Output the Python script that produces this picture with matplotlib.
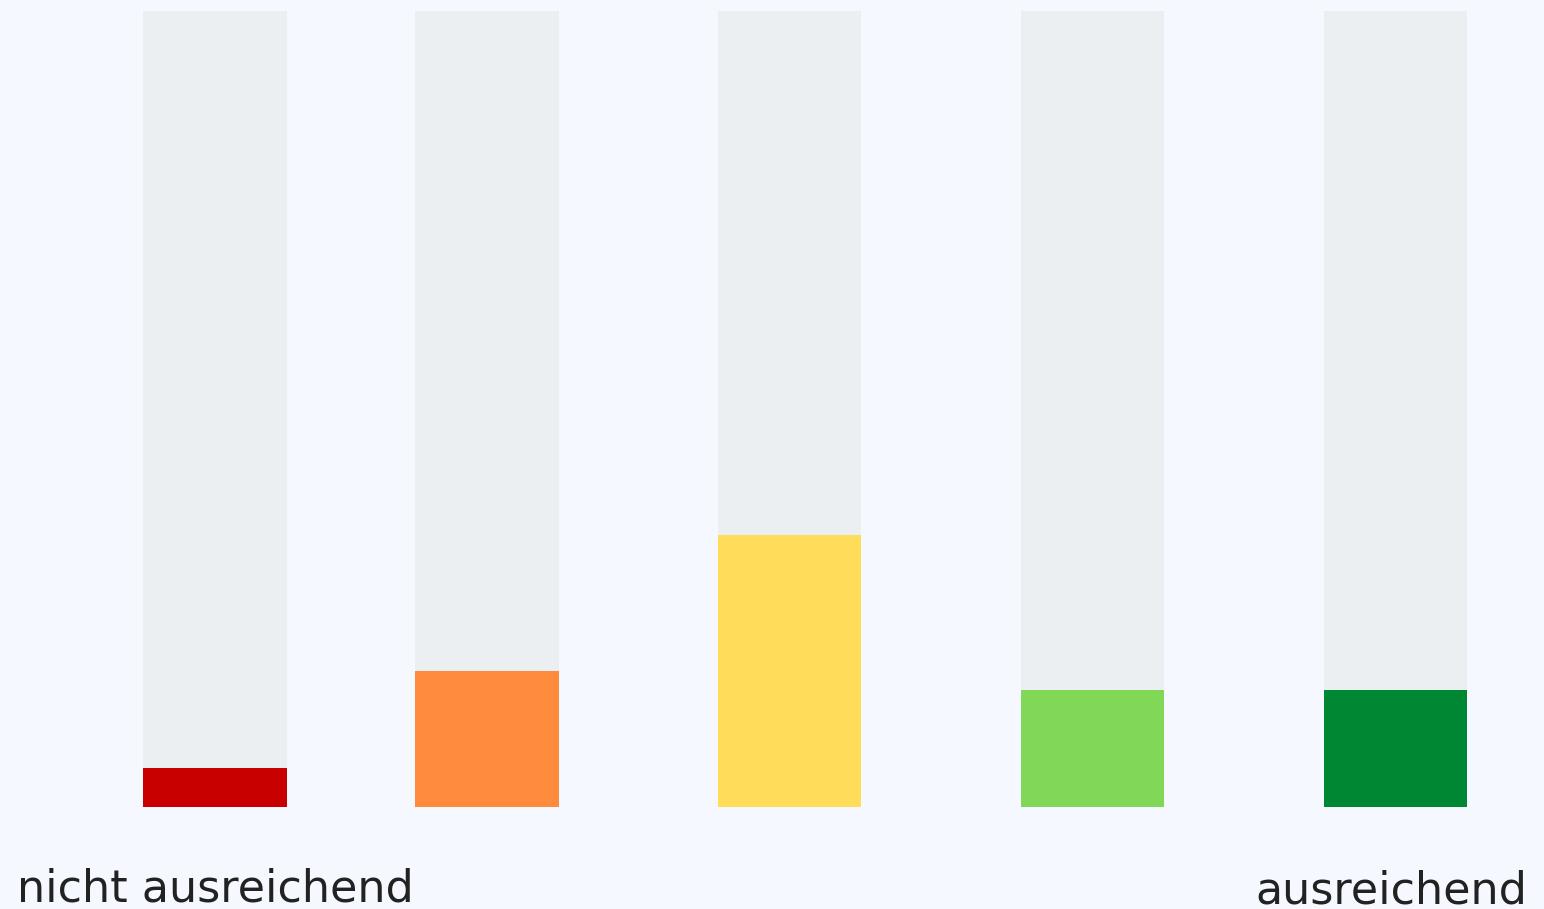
import matplotlib
matplotlib.use("Agg")
import matplotlib.pyplot as plt
import numpy as np

categories = ["1", "2", "3", "4", "5"]
values = [4.9, 17.1, 34.2, 14.7, 14.7]
max_value = 100
colors = ["#C80000", "#FF8C3C", "#FFDC5A", "#80D856", "#008733"]
label_left = "nicht ausreichend"
label_right = "ausreichend"

bg = "#F5F8FE"
track = "#EBEFF2"

fig = plt.figure(figsize=(15.44, 9.09), dpi=100, facecolor=bg)
ax = fig.add_axes([0, 0.1122, 1, 0.8757])
ax.set_facecolor(bg)

pos = [0, 0.897, 1.896, 2.896, 3.896]
width = 0.475
ax.bar(pos, [max_value] * len(values), width=width, color=track, linewidth=0)
ax.bar(pos, values, width=width, color=colors, linewidth=0)

ax.set_xlim(-0.7096, 4.386)
ax.set_ylim(0, max_value)
ax.axis("off")

fig.text(17 / 1544, (909 - 902) / 909, label_left, ha="left", va="baseline",
         fontsize=32, color="#222222", family=["DejaVu Sans"])
fig.text(1527 / 1544, (909 - 903) / 909, label_right, ha="right", va="baseline",
         fontsize=32, color="#222222", family=["DejaVu Sans"])

fig.savefig("out.png", dpi=100, facecolor=bg)
